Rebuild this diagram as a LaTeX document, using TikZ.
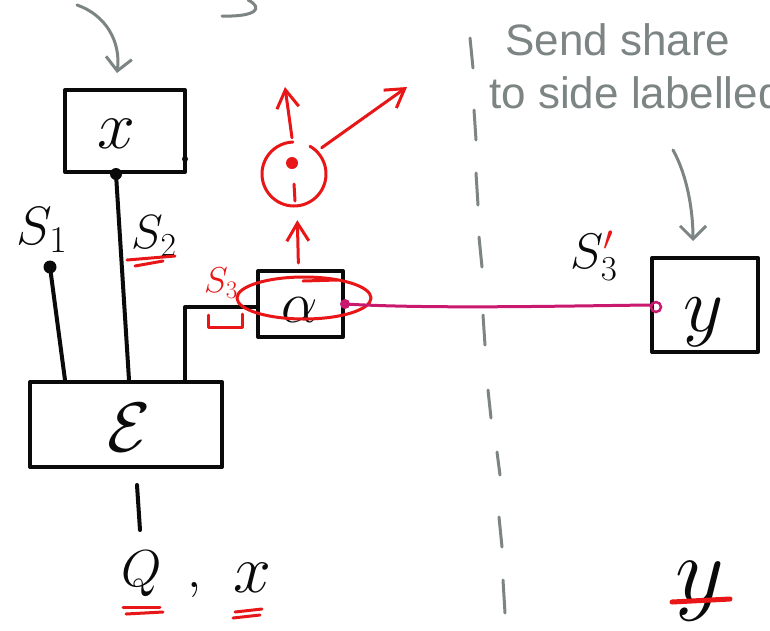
\RequirePackage{fix-cm}
\documentclass[tikz,border=0pt]{standalone}
\usepackage{fontspec}
\newfontfamily\notefont{Liberation Sans}
\usetikzlibrary{arrows.meta}
\definecolor{ink}{RGB}{10,10,10}
\definecolor{pencil}{RGB}{125,132,132}
\definecolor{hred}{RGB}{232,22,22}
\definecolor{wire}{RGB}{200,25,110}
\tikzset{
  stroke/.style={line width=4pt, line cap=round, line join=round, draw=ink},
  rline/.style={line width=3pt, line cap=round, line join=round, draw=hred},
  gline/.style={line width=3pt, line cap=round, line join=round, draw=pencil},
  rarr/.style={rline, -{Straight Barb[length=18pt,width=22pt]}},
  garr/.style={gline, -{Straight Barb[length=13pt,width=26pt]}},
  sheet/.style={draw=ink, line width=4pt, line join=round, inner sep=0pt},
  glyph/.style={inner sep=0pt, text=ink},
  note/.style={inner sep=0pt, text=pencil, font=\notefont\fontsize{44}{46}\selectfont},
}
\begin{document}
\begin{tikzpicture}[x=1pt, y=-1pt]
\useasboundingbox (0,0) rectangle (770,630);
\clip (0,0) rectangle (770,630);
\fill[white] (0,0) rectangle (770,630);

% boxes
\node[sheet, minimum width=120pt, minimum height=82pt] (xbox) at (125,131) {};
\node[sheet, minimum width=192pt, minimum height=85pt] (ebox) at (126,424.5) {};
\node[sheet, minimum width=85pt, minimum height=66pt] (abox) at (300.5,304) {};
\node[sheet, minimum width=106pt, minimum height=94pt] (ybox) at (705,305) {};

% letters inside the boxes
\node[glyph, font=\fontsize{68}{70}\selectfont] (xlet) at (116,134) {$x$};
\node[glyph, font=\fontsize{70}{72}\selectfont] (elet) at (129,428) {$\mathcal{E}$};
\node[glyph, font=\fontsize{58}{60}\selectfont] (alet) at (300,310) {$\alpha$};
\node[glyph, font=\fontsize{78}{80}\selectfont] (ylet) at (704,322) {$y$};
\fill[ink] (xbox.south east) ++(-2,-15) circle (3);

% wires into the box E
\coordinate (s1end) at (50,267);
\draw[stroke] ([xshift=-9pt]xbox.south) -- ([xshift=3pt]ebox.north);
\fill[ink] ([xshift=-9pt]xbox.south) circle (6);
\draw[stroke] (s1end) -- ([xshift=-61pt]ebox.north);
\fill[ink] (s1end) circle (6.5);
\draw[stroke] ([xshift=59pt]ebox.north) |- ([yshift=-3pt]abox.west);
\coordinate (eout) at (140,530);
\draw[stroke] ([xshift=11pt,yshift=-16pt]ebox.south) -- (eout);

% share labels
\node[glyph, font=\fontsize{54}{56}\selectfont] (s1lab) at (42,230) {$S_1$};
\node[glyph, font=\fontsize{48}{50}\selectfont] (s2lab) at (154,236) {$S_2$};
\node[glyph, text=hred, font=\fontsize{36}{38}\selectfont] (s3lab) at (221,283) {$S_3$};
\node[glyph, font=\fontsize{50}{52}\selectfont] (s3plab) at (594,256) {$S_3^{\textcolor{hred}{\prime}}$};
\draw[rline] (127,260) -- (175,256);
\draw[rline] (135,266) -- (163,261);
\draw[rline] (208,315) -- (208,327) -- (242,327) -- (242,314);

% measurement of the share
\node[circle, minimum size=64pt, inner sep=0pt] (meas) at (294,174) {};
\draw[rline] (meas.center) ++(-60:32) arc[start angle=-60, end angle=268, radius=32];
\fill[hred] (292,163) circle (6);
\draw[rline] (294,184) -- (295,201);
\draw[rline] (304,298) ellipse [x radius=67, y radius=21];
\draw[rline] (303,281) -- (337,280);
\draw[rarr, shorten <=6pt, shorten >=14pt] ([xshift=-2pt]abox.north) -- ([xshift=3pt]meas.south);
\coordinate (outA) at (285,87);
\coordinate (outB) at (407,87);
\draw[rarr] ([xshift=-2pt,yshift=4pt]meas.north) -- (outA);
\draw[rarr, shorten <=6pt] (meas.north east) -- (outB);

% channel to the other side
\draw[wire, line width=3pt, line cap=round] (abox.east) .. controls (430,309) and (560,306) .. (ybox.west);
\fill[wire] (abox.east) circle (5);
\draw[wire, line width=2.5pt] ([xshift=6pt,yshift=-2pt]ybox.west) circle (5);

% divider between the two sides
\foreach \xa/\ya/\xb/\yb in {470/38/473/68, 474/110/476/140, 476/173/478/205,
  479/237/482/267, 483/315/485/345, 488/390/491/418, 497/452/500/475,
  499/517/502/547, 503/580/505/613}
  \draw[gline] (\xa,\ya) -- (\xb,\yb);

% notes in pencil
\node[note, anchor=base west] (note1) at (505,55) {Send share};
\node[note, anchor=base west] (note2) at (489,108) {to side labelled};
\coordinate (noteA) at (77,5);
\coordinate (noteB) at (673,150);
\draw[garr] (noteA) .. controls (106,15) and (121,42) .. ([xshift=-8pt,yshift=15pt]xbox.north);
\draw[garr] (noteB) .. controls (687,175) and (693,210) .. ([xshift=-12pt,yshift=15pt]ybox.north);
\draw[gline] (248,0) .. controls (264,8) and (256,17) .. (222,16);

% inputs
\node[glyph, font=\fontsize{52}{54}\selectfont] (qin) at (142,574) {$Q$};
\node[glyph, font=\fontsize{52}{54}\selectfont] (comma) at (195,590) {$,$};
\node[glyph, font=\fontsize{68}{70}\selectfont] (xin) at (252,578) {$x$};
\node[glyph, font=\fontsize{95}{97}\selectfont] (yin) at (700,591) {$y$};
\draw[rline] (123,607) -- (160,607);
\draw[rline] (126,614) -- (163,612);
\draw[rline] (235,612) -- (262,609);
\draw[rline] (233,618) -- (260,615);
\draw[rline, line width=5pt] (672,602) -- (730,599);
\end{tikzpicture}
\end{document}
